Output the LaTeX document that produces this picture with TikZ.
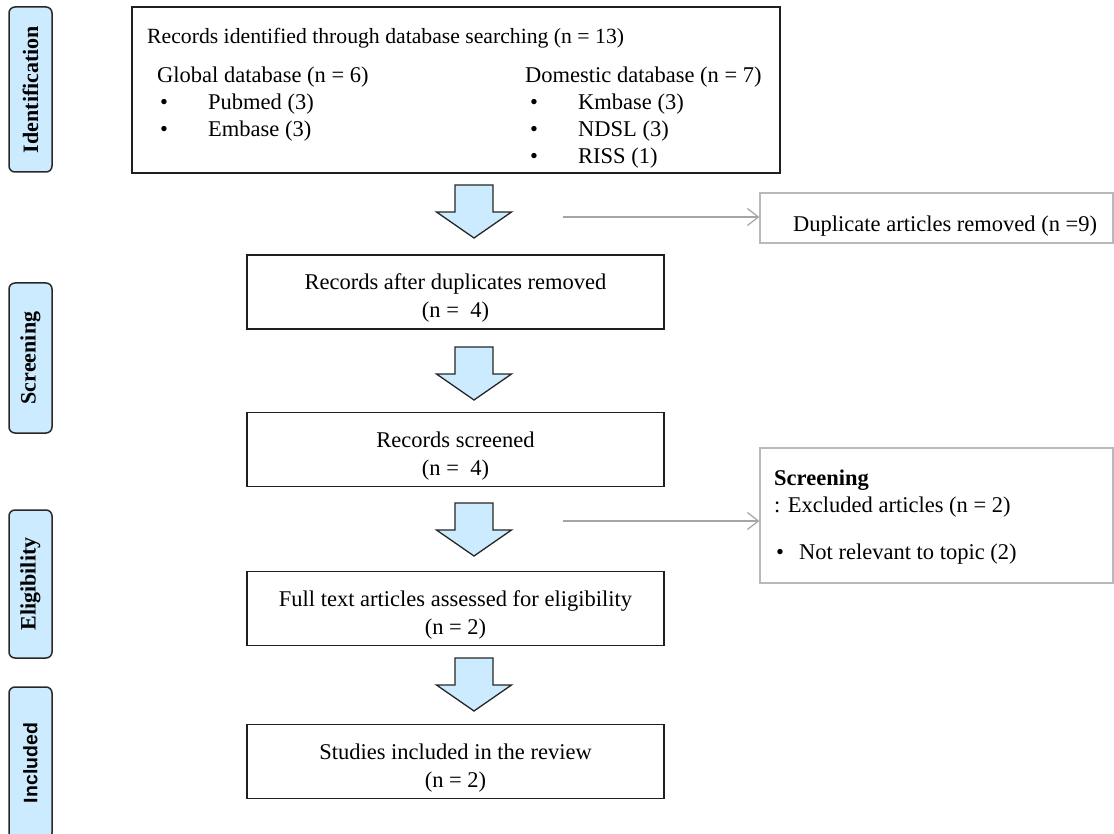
\documentclass[tikz,border=0pt]{standalone}
\usepackage{fontspec}
\setmainfont{Liberation Serif}
\newfontfamily\labsans{Liberation Sans}
\usetikzlibrary{arrows.meta,calc}
\definecolor{lblue}{RGB}{205,235,255}
\definecolor{lgray}{RGB}{185,185,185}
\definecolor{cgray}{RGB}{165,165,165}
\definecolor{dgray}{RGB}{40,40,40}
\newcommand\blockarrow[1]{\begin{scope}[shift={(#1)}]\draw[barrow] (-19,0) -- (19,0) -- (19,27) -- (37.5,27) -- (0,53) -- (-37.5,27) -- (-19,27) -- cycle;\end{scope}}
\begin{document}
\begin{tikzpicture}[x=1pt,y=-1pt,
  every node/.style={font=\fontsize{22.5}{27}\selectfont, inner sep=0pt},
  stage/.style={draw=dgray, line width=1.5pt, fill=lblue, rounded corners=6pt, minimum height=43pt, rotate=90, font=\fontsize{22}{26}\selectfont\bfseries},
  box/.style={draw=black!88, line width=1.6pt, minimum width=417pt, minimum height=74pt},
  gbox/.style={draw=lgray, line width=1.3pt},
  txt/.style={anchor=base west},
  ctxt/.style={anchor=base},
  barrow/.style={draw=black!85, line width=1.3pt, fill=lblue, line join=miter},
  gline/.style={draw=cgray, line width=1.2pt, -{Straight Barb[length=11pt,width=17pt,line width=1.2pt]}}
]
\useasboundingbox (0,0) rectangle (1114,834);

% stage labels
\node[stage, minimum width=165pt] (sid) at (30.5,89.5) {Identification};
\node[stage, minimum width=150pt] (ssc) at (30.5,358) {Screening};
\node[stage, minimum width=148pt] (sel) at (30.5,584) {Eligibility};
\node[stage, minimum width=152pt, font=\fontsize{19.5}{24}\selectfont\labsans\bfseries] (sin) at (30.5,763) {Included};

% top box
\node[draw=black!88, line width=1.6pt, minimum width=648pt, minimum height=166pt] (top) at (456,90) {};
\node[txt, font=\fontsize{21.7}{27}\selectfont] (t0) at (147,44) {Records identified through database searching (n = 13)};
\node[txt] (tg) at (157,83) {Global database (n = 6)};
\node[txt] (tgb1) at (160,110) {•};
\node[txt] (tg1) at (208,110) {Pubmed (3)};
\node[txt] (tgb2) at (160,137) {•};
\node[txt] (tg2) at (208,137) {Embase (3)};
\node[txt] (td) at (525,83) {Domestic database (n = 7)};
\node[txt] (tdb1) at (530,110) {•};
\node[txt] (td1) at (578,110) {Kmbase (3)};
\node[txt] (tdb2) at (530,137) {•};
\node[txt] (td2) at (578,137) {NDSL (3)};
\node[txt] (tdb3) at (530,164) {•};
\node[txt] (td3) at (578,164) {RISS (1)};

% middle boxes
\node[box] (b1) at (455.5,292) {};
\node[ctxt] (b1a) at ($(b1.center)+(0,-2.5)$) {Records after duplicates removed};
\node[ctxt] (b1b) at ($(b1.center)+(0,25.5)$) {(n =\ \ 4)};
\node[box] (b2) at (455.5,449.5) {};
\node[ctxt] (b2a) at ($(b2.center)+(0,-2.5)$) {Records screened};
\node[ctxt] (b2b) at ($(b2.center)+(0,25.5)$) {(n =\ \ 4)};
\node[box] (b3) at (455.5,608.5) {};
\node[ctxt] (b3a) at ($(b3.center)+(0,-2.5)$) {Full text articles assessed for eligibility};
\node[ctxt] (b3b) at ($(b3.center)+(0,25.5)$) {(n = 2)};
\node[box] (b4) at (455.5,761.5) {};
\node[ctxt] (b4a) at ($(b4.center)+(0,-2.5)$) {Studies included in the review};
\node[ctxt] (b4b) at ($(b4.center)+(0,25.5)$) {(n = 2)};

% block arrows
\blockarrow{474,185}
\blockarrow{474,347}
\blockarrow{474,503}
\blockarrow{474,658}

% right boxes
\node[gbox, minimum width=353pt, minimum height=50pt] (dup) at (936.5,218) {};
\node[txt] (dupt) at (793,232) {Duplicate articles removed (n =9)};
\node[gbox, minimum width=353pt, minimum height=135pt] (exc) at (936.5,515.5) {};
\node[txt, font=\fontsize{22.5}{27}\selectfont\bfseries] (exc1) at (774,485) {Screening};
\node[txt] (exc2) at (774,512) {: Excluded articles (n = 2)};
\node[txt] (exc3) at (776,559) {•};
\node[txt] (exc4) at (799,559) {Not relevant to topic (2)};

% connectors
\coordinate (g1) at (563,217);
\coordinate (g2) at (563,521);
\draw[gline] (g1) -- (g1 -| dup.west);
\draw[gline] (g2) -- (g2 -| exc.west);
\end{tikzpicture}
\end{document}
